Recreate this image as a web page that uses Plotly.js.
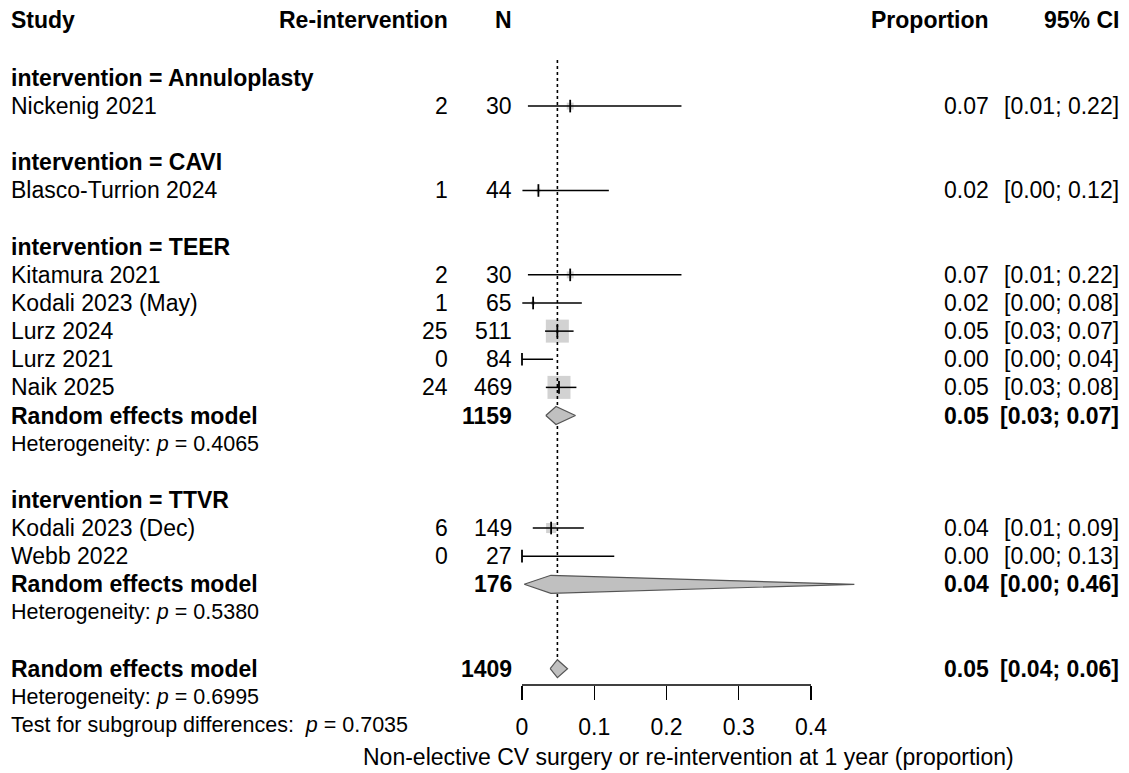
<!DOCTYPE html>
<html>
<head>
<meta charset="utf-8">
<script src="https://cdn.plot.ly/plotly-3.0.1.min.js"></script>
<style>html,body{margin:0;padding:0;background:#fff;}#chart{width:1129px;height:773px;}</style>
</head>
<body>
<div id="chart"></div>
<script>
// ---------- data ----------
const groups = ["Annuloplasty", "CAVI", "TEER", "TTVR"];
const studies = ["Nickenig 2021", "Blasco-Turrion 2024", "Kitamura 2021", "Kodali 2023 (May)", "Lurz 2024", "Lurz 2021", "Naik 2025", "Kodali 2023 (Dec)", "Webb 2022"];
const studyGroup = ["Annuloplasty", "CAVI", "TEER", "TEER", "TEER", "TEER", "TEER", "TTVR", "TTVR"];
const events = [2, 1, 2, 1, 25, 0, 24, 6, 0];
const totals = [30, 44, 30, 65, 511, 84, 469, 149, 27];
const estimate = [0.0667, 0.0227, 0.0667, 0.0154, 0.0489, 0.0, 0.0512, 0.0403, 0.0];
const lower = [0.0082, 0.0006, 0.0082, 0.0004, 0.0319, 0.0, 0.0330, 0.0149, 0.0];
const upper = [0.2207, 0.1202, 0.2207, 0.0828, 0.0714, 0.0430, 0.0753, 0.0856, 0.1277];
const weight = [9, 3, 9, 3, 100, 0, 100, 19, 0];

const subGroups = ["TEER", "TTVR"];
const subN = [1159, 176];
const subEst = [0.047, 0.040];
const subLower = [0.033, 0.003];
const subUpper = [0.074, 0.460];
const subHetP = ["0.4065", "0.5380"];

const overallN = 1409;
const overallEst = 0.049;
const overallLower = 0.039;
const overallUpper = 0.063;
const overallHetP = "0.6995";
const subgroupTestP = "0.7035";

const tickVals = [0, 0.1, 0.2, 0.3, 0.4];
const tickText = ["0", "0.1", "0.2", "0.3", "0.4"];
const xLabel = "Non-elective CV surgery or re-intervention at 1 year (proportion)";
const headers = ["Study", "Re-intervention", "N", "Proportion", "95% CI"];

// ---------- layout geometry ----------
const W = 1129, H = 773;
const row0 = 21.7, rowH = 28.13;         // px of row 0 and row pitch
const x0px = 522, x04px = 811;           // px of x=0 and x=0.4
const scale = (x04px - x0px) / 0.4;
const xRange = [-x0px / scale, (W - x0px) / scale];
const yRange = [(H - row0) / rowH, -row0 / rowH];
const px = v => v / W;
const headerRow = (20 - row0) / rowH;

const FONT = "Liberation Sans, Arial, Helvetica, sans-serif";
const FS = 23, FSH = 21.5;
const colStudy = 9, colEv = 450, colN = 514, colProp = 991, colCI = 1121;

const fmt = v => v.toFixed(2);
const ciTxt = (l, u) => "[" + fmt(l) + "; " + fmt(u) + "]";

const ann = [];
function txt(x, r, s, anchor, size) {
  ann.push({xref: "paper", yref: "y", x: px(x), y: r, text: s, showarrow: false,
    xanchor: anchor, yanchor: "middle", font: {family: FONT, size: size || FS, color: "#000"}});
}

// headers
txt(colStudy, headerRow, "<b>" + headers[0] + "</b>", "left");
txt(colEv, headerRow, "<b>" + headers[1] + "</b>", "right");
txt(colN, headerRow, "<b>" + headers[2] + "</b>", "right");
txt(colProp, headerRow, "<b>" + headers[3] + "</b>", "right");
txt(colCI, headerRow, "<b>" + headers[4] + "</b>", "right");

// rows
const ciX = [], ciY = [], sqX = [], sqY = [], sqS = [], tkX = [], tkY = [];
const diamonds = [];
let r = 2;
groups.forEach(g => {
  txt(colStudy, r, "<b>intervention = " + g + "</b>", "left");
  r += 1;
  studies.forEach((s, i) => {
    if (studyGroup[i] !== g) return;
    txt(colStudy, r, s, "left");
    txt(colEv, r, String(events[i]), "right");
    txt(colN, r, String(totals[i]), "right");
    txt(colProp, r, fmt(estimate[i]), "right");
    txt(colCI, r, ciTxt(lower[i], upper[i]), "right");
    ciX.push(lower[i], upper[i], null); ciY.push(r, r, null);
    if (weight[i] > 0) { sqX.push(estimate[i]); sqY.push(r); sqS.push(23 * Math.sqrt(weight[i] / 100)); }
    tkX.push(estimate[i]); tkY.push(r);
    r += 1;
  });
  const k = subGroups.indexOf(g);
  if (k >= 0) {
    txt(colStudy, r, "<b>Random effects model</b>", "left");
    txt(colN, r, "<b>" + subN[k] + "</b>", "right");
    txt(colProp, r, "<b>" + fmt(subEst[k]) + "</b>", "right");
    txt(colCI, r, "<b>" + ciTxt(subLower[k], subUpper[k]) + "</b>", "right");
    diamonds.push([subLower[k], subEst[k], subUpper[k], r]);
    r += 1;
    txt(colStudy, r, "Heterogeneity: <i>p</i> = " + subHetP[k], "left", FSH);
    r += 1;
  }
  r += 1;
});
// overall
txt(colStudy, r, "<b>Random effects model</b>", "left");
txt(colN, r, "<b>" + overallN + "</b>", "right");
txt(colProp, r, "<b>" + fmt(overallEst) + "</b>", "right");
txt(colCI, r, "<b>" + ciTxt(overallLower, overallUpper) + "</b>", "right");
diamonds.push([overallLower, overallEst, overallUpper, r]);
const overallRow = r;
txt(colStudy, r + 1, "Heterogeneity: <i>p</i> = " + overallHetP, "left", FSH);
txt(colStudy, r + 2, "Test for subgroup differences:\u00a0 <i>p</i> = " + subgroupTestP, "left", FSH);

// axis title
ann.push({xref: "paper", yref: "paper", x: px(688), y: 1 - 757 / H, text: xLabel, showarrow: false,
  xanchor: "center", yanchor: "middle", font: {family: FONT, size: FS, color: "#000"}});

const traces = [];
traces.push({x: sqX, y: sqY, mode: "markers", type: "scatter", hoverinfo: "skip",
  marker: {symbol: "square", size: sqS, color: "#bfbfbf", line: {width: 0}}});
traces.push({x: ciX, y: ciY, mode: "lines", type: "scatter", hoverinfo: "skip",
  line: {color: "#000", width: 1.5}});
traces.push({x: tkX, y: tkY, mode: "markers", type: "scatter", hoverinfo: "skip",
  marker: {symbol: "line-ns-open", size: 9, color: "#000", line: {color: "#000", width: 1.8}}});
// reference line
traces.push({x: [overallEst, overallEst], y: [(60 - row0) / rowH, overallRow - 0.33], mode: "lines", type: "scatter",
  hoverinfo: "skip", line: {color: "#000", width: 1.6, dash: "dot"}});
const dh = 0.32;
diamonds.forEach(d => {
  traces.push({x: [d[0], d[1], d[2], d[1], d[0]], y: [d[3], d[3] - dh, d[3], d[3] + dh, d[3]],
    mode: "lines", type: "scatter", fill: "toself", fillcolor: "#c0c0c0", hoverinfo: "skip",
    line: {color: "#555", width: 1.2}});
});

const axisY = 1 - 685 / H;
const layout = {
  width: W, height: H, margin: {l: 0, r: 0, t: 0, b: 0},
  paper_bgcolor: "#fff", plot_bgcolor: "rgba(0,0,0,0)", showlegend: false,
  xaxis: {range: xRange, domain: [0, 1], anchor: "free", position: axisY, showline: false, zeroline: false,
    showgrid: false, ticks: "outside", ticklen: 14, tickwidth: 1.4, tickcolor: "#000", ticklabelstandoff: 7,
    tickvals: tickVals, ticktext: tickText, tickfont: {family: FONT, size: FS, color: "#000"}, fixedrange: true},
  yaxis: {range: yRange, domain: [0, 1], visible: false, fixedrange: true},
  shapes: [{type: "line", xref: "x", yref: "paper", x0: 0, x1: 0.4, y0: axisY, y1: axisY,
    line: {color: "#000", width: 1.4}}],
  annotations: ann
};
Plotly.newPlot("chart", traces, layout, {staticPlot: true, displayModeBar: false});
</script>
</body>
</html>
